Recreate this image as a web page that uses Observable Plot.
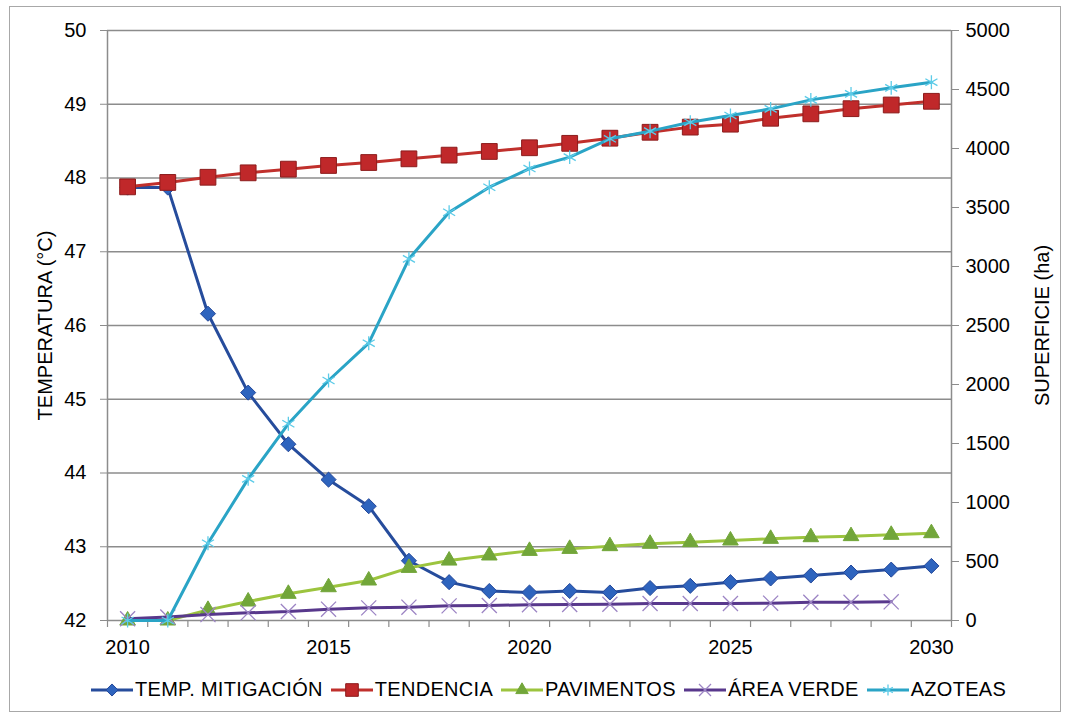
<!DOCTYPE html>
<html><head><meta charset="utf-8">
<script src="https://cdn.jsdelivr.net/npm/d3@7"></script>
<script src="https://cdn.jsdelivr.net/npm/@observablehq/plot@0.6"></script>
<style>
body{margin:0;background:#fff;font-family:"Liberation Sans",Arial,sans-serif;}
#wrap{position:relative;width:1069px;height:719px;overflow:hidden;background:#fff;}
#frame{position:absolute;left:9px;top:6px;width:1052px;height:706px;border:1px solid #a8a8a8;box-sizing:border-box;}
#chart{position:absolute;left:0;top:0;}
#legend{position:absolute;left:90px;top:678px;display:flex;align-items:center;font-size:20px;letter-spacing:0.3px;color:#000;white-space:nowrap;}
.item{display:flex;align-items:center;margin-right:7px}
.item svg{margin-right:1px}
</style></head><body>
<div id="wrap"><div id="frame"></div><div id="chart"></div><div id="legend"></div></div>
<script>
const years = [2010,2011,2012,2013,2014,2015,2016,2017,2018,2019,2020,2021,2022,2023,2024,2025,2026,2027,2028,2029,2030];
const yearLabels = [2010,2015,2020,2025,2030];
const tempTicks = [42,43,44,45,46,47,48,49,50];
const haTicks = [0,500,1000,1500,2000,2500,3000,3500,4000,4500,5000];
// Temperature (°C), left axis
const tempMitigacion = [47.87,47.87,46.16,45.09,44.39,43.91,43.55,42.81,42.52,42.40,42.38,42.40,42.38,42.44,42.47,42.52,42.57,42.61,42.65,42.69,42.74];
const tendencia = [47.88,47.94,48.01,48.07,48.12,48.17,48.21,48.26,48.31,48.36,48.41,48.47,48.54,48.62,48.69,48.73,48.81,48.87,48.94,48.99,49.04];
// Surface (ha), right axis
const pavimentos = [0,0,90,161,226,282,339,446,508,551,590,607,630,650,664,678,692,706,715,726,740];
const areaVerde = [15,30,50,65,76,96,107,113,124,127,134,136,138,144,144,144,147,155,155,158];
const azoteas = [0,0,655,1200,1667,2034,2350,3065,3460,3672,3830,3927,4082,4147,4223,4280,4336,4412,4463,4514,4562];

const haMax = 5000, tMin = 42, tMax = 50;
const toT = v => tMin + v * (tMax - tMin) / haMax;
const fromT = t => Math.round((t - tMin) * haMax / (tMax - tMin));

const series = [
  {name:"TEMP. MITIGACIÓN", vals:tempMitigacion, axis:"left", line:"#264C9C", fill:"#2E64BE", mstroke:"#24489a", symbol:"diamond2", r:6.8},
  {name:"TENDENCIA", vals:tendencia, axis:"left", line:"#C0302C", fill:"#C0282A", mstroke:"#8C1C1C", symbol:"square", r:8.9},
  {name:"PAVIMENTOS", vals:pavimentos, axis:"right", line:"#9CC43E", fill:"#72A63A", mstroke:"#72A63A", symbol:"triangle", r:5.8},
  {name:"ÁREA VERDE", vals:areaVerde, axis:"right", line:"#58388C", fill:"none", mstroke:"#9C84C4", symbol:"times", r:6.9},
  {name:"AZOTEAS", vals:azoteas, axis:"right", line:"#2AA4C6", fill:"none", mstroke:"#5CCBE8", symbol:"asterisk", r:6.6}
];

const boundaries = years.map(y => y - 0.5).concat([years[years.length-1] + 0.5]);

const seriesMarks = series.flatMap(s => {
  const rows = s.vals.map((v,i) => ({year: years[i], y: s.axis === "left" ? v : toT(v)}));
  return [
    Plot.line(rows, {x:"year", y:"y", stroke:s.line, strokeWidth:3}),
    Plot.dot(rows, {x:"year", y:"y", symbol:s.symbol, r:s.r, fill:s.fill, stroke:s.mstroke, strokeWidth: s.fill === "none" ? 1.3 : 1})
  ];
});

const chart = Plot.plot({
  width:1069, height:660,
  marginLeft:107, marginRight:118, marginTop:30, marginBottom:40,
  style:{fontFamily:"'Liberation Sans', Arial, sans-serif", fontSize:"20px", color:"#000", background:"transparent", overflow:"visible"},
  x:{domain:[boundaries[0], boundaries[boundaries.length-1]]},
  y:{domain:[tMin, tMax]},
  marks:[
    Plot.ruleY(tempTicks, {stroke:"#8c8c8c", strokeWidth:1.5}),
    Plot.ruleX([boundaries[0], boundaries[boundaries.length-1]], {stroke:"#8c8c8c", strokeWidth:1.5}),
    Plot.axisX(boundaries, {tickSize:7, tickFormat:() => "", stroke:"#8c8c8c", strokeWidth:1.2, label:null}),
    Plot.axisX(yearLabels, {tickSize:0, tickPadding:19, tickFormat:d => String(d), label:null, fill:"#000"}),
    Plot.axisY(tempTicks, {anchor:"left", tickSize:7, tickPadding:14, tickFormat:d => String(d), label:null, stroke:"#8c8c8c", fill:"#000"}),
    Plot.axisY(haTicks.map(toT), {anchor:"right", tickSize:7, tickPadding:7, tickFormat:t => String(fromT(t)), label:null, stroke:"#8c8c8c", fill:"#000"}),
    Plot.text(["TEMPERATURA (°C)"], {frameAnchor:"left", dx:-62, rotate:-90, textAnchor:"middle", fontSize:20, fill:"#000"}),
    Plot.text(["SUPERFICIE (ha)"], {frameAnchor:"right", dx:91, rotate:-90, textAnchor:"middle", fontSize:20, fill:"#000"}),
    ...seriesMarks
  ]
});
document.getElementById("chart").appendChild(chart);

// Legend
const symMap = {diamond2:d3.symbolDiamond2, square:d3.symbolSquare, triangle:d3.symbolTriangle, times:d3.symbolTimes, asterisk:d3.symbolAsterisk};
const legend = d3.select("#legend");
series.forEach(s => {
  const it = legend.append("div").attr("class","item");
  const sv = it.append("svg").attr("width",44).attr("height",20);
  sv.append("line").attr("x1",1).attr("x2",43).attr("y1",10).attr("y2",10).attr("stroke",s.line).attr("stroke-width",3);
  const rr = s.r * 0.8;
  sv.append("path").attr("transform","translate(22,10)")
    .attr("d", d3.symbol(symMap[s.symbol], Math.PI*rr*rr)())
    .attr("fill", s.fill).attr("stroke", s.mstroke).attr("stroke-width", s.fill === "none" ? 1.3 : 1);
  it.append("span").text(s.name);
});
</script>
</body></html>
